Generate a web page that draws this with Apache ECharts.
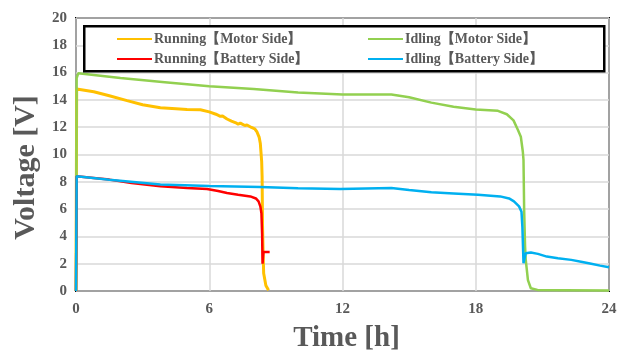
<!DOCTYPE html>
<html><head><meta charset="utf-8">
<script src="https://cdn.jsdelivr.net/npm/echarts@6/dist/echarts.min.js"></script>
<style>html,body{margin:0;padding:0;background:#fff}#c{width:626px;height:352px}</style>
</head><body><div id="c"></div>
<script>
const xTicks = [0, 6, 12, 18, 24];
const yTicks = [0, 2, 4, 6, 8, 10, 12, 14, 16, 18, 20];
const seriesNames = ['Running【Motor Side】', 'Idling【Motor Side】', 'Running【Battery Side】', 'Idling【Battery Side】'];

const runningMotor = [
  [0,0],[0.03,14.8],[0.1,14.9],[0.8,14.6],[1.5,14.3],[2.3,13.95],[3.0,13.65],[3.8,13.42],[4.5,13.35],[5.0,13.3],[5.6,13.28],[6.0,13.12],
  [6.3,12.95],[6.5,12.8],[6.55,12.7],[6.6,12.82],[6.8,12.6],[7.0,12.45],[7.2,12.32],[7.3,12.22],[7.4,12.3],[7.6,12.12],[7.7,12.16],[7.9,11.98],[8.05,11.88],
  [8.15,11.65],[8.25,11.25],[8.3,10.8],[8.36,9.5],[8.38,8.4],[8.4,4.7],[8.43,2.5],[8.45,1.3],[8.55,0.4],[8.67,0.05]
];
const idlingMotor = [
  [0,0],[0.03,15.6],[0.1,15.95],[2.0,15.6],[4.0,15.3],[6.0,15.0],[8.0,14.8],[10.0,14.55],[12.0,14.4],[14.2,14.4],[15.0,14.2],
  [16.0,13.8],[17.0,13.5],[18.0,13.3],[19.0,13.2],[19.4,12.95],[19.7,12.5],[19.9,11.8],[20.03,11.3],[20.12,10.2],[20.15,9.6],
  [20.18,5.9],[20.22,3.3],[20.25,2.3],[20.35,0.8],[20.48,0.2],[20.78,0.08],[22.0,0.06],[24.0,0.03]
];
const runningBattery = [
  [0,0],[0.03,8.4],[0.8,8.28],[1.5,8.16],[2.5,7.92],[3.8,7.67],[5.0,7.55],[5.9,7.47],[6.4,7.33],[6.8,7.18],[7.3,7.05],[7.85,6.93],
  [8.1,6.78],[8.22,6.57],[8.3,6.2],[8.35,5.7],[8.38,4.2],[8.4,2.0],[8.42,2.0],[8.44,2.85],[8.72,2.85]
];
const idlingBattery = [
  [0,0],[0.03,8.4],[1.5,8.15],[3.8,7.8],[6.0,7.7],[8.3,7.62],[10.0,7.52],[11.9,7.47],[14.2,7.55],[15.0,7.4],[16.0,7.23],
  [17.0,7.15],[18.1,7.06],[19.1,6.93],[19.5,6.78],[19.72,6.57],[19.95,6.2],[20.06,5.8],[20.1,4.7],[20.15,2.03],[20.2,2.1],
  [20.25,2.77],[20.48,2.82],[20.8,2.72],[21.2,2.52],[21.7,2.4],[22.3,2.28],[22.8,2.12],[23.2,1.99],[23.6,1.86],[24.0,1.74]
];

const colors = ['#FFC000', '#92D050', '#FF0000', '#00B0F0'];
const dataSets = [runningMotor, idlingMotor, runningBattery, idlingBattery];
const widths = [3, 2.5, 2.5, 2.5];
const gray = '#595959';
const serif = '"Liberation Serif", "Times New Roman", serif';

const chart = echarts.init(document.getElementById('c'), null, {renderer: 'canvas'});
chart.setOption({
  animation: false,
  backgroundColor: '#fff',
  grid: {left: 76, right: 17, top: 18, bottom: 61, show: true, borderColor: '#000', borderWidth: 2, backgroundColor: 'transparent', outerBoundsMode: 'none', containLabel: false},
  xAxis: {
    type: 'value', min: xTicks[0], max: xTicks[xTicks.length - 1], interval: 6,
    name: 'Time [h]', nameLocation: 'middle', nameGap: 33,
    nameTextStyle: {fontFamily: serif, fontWeight: 'bold', fontSize: 29, color: gray, padding: [0, 0, 0, 8]},
    axisLine: {show: false}, axisTick: {show: false},
    axisLabel: {fontFamily: serif, fontWeight: 'bold', fontSize: 15, color: gray, margin: 11},
    splitLine: {show: true, lineStyle: {color: '#D9D9D9', width: 1.5}}
  },
  yAxis: {
    type: 'value', min: yTicks[0], max: yTicks[yTicks.length - 1], interval: 2,
    name: 'Voltage [V]', nameLocation: 'middle', nameGap: 32, nameRotate: 90,
    nameTextStyle: {fontFamily: serif, fontWeight: 'bold', fontSize: 30, color: gray, padding: [0, 26, 0, 0]},
    axisLine: {show: false}, axisTick: {show: false},
    axisLabel: {fontFamily: serif, fontWeight: 'bold', fontSize: 15, color: gray, margin: 9},
    splitLine: {show: true, lineStyle: {color: '#D9D9D9', width: 1.5}}
  },
  graphic: [{
    type: 'rect', left: 83, top: 25, z: 5,
    shape: {width: 520, height: 45},
    style: {fill: '#fff', stroke: '#000', lineWidth: 2.5}
  }],
  legend: [{
    data: [seriesNames[0], seriesNames[2]], orient: 'vertical', left: 112, top: 27, itemGap: 6,
    itemWidth: 35, itemHeight: 12, z: 10, icon: 'path://M0,5 L35,5 L35,7 L0,7 Z',
    textStyle: {fontFamily: serif, fontWeight: 'bold', fontSize: 14, color: gray, padding: [0,0,0,-3]}
  }, {
    data: [seriesNames[1], seriesNames[3]], orient: 'vertical', left: 363, top: 27, itemGap: 6,
    itemWidth: 35, itemHeight: 12, z: 10, icon: 'path://M0,5 L35,5 L35,7 L0,7 Z',
    textStyle: {fontFamily: serif, fontWeight: 'bold', fontSize: 14, color: gray, padding: [0,0,0,-3]}
  }],
  series: dataSets.map((d, i) => ({
    name: seriesNames[i], type: 'line', data: d, showSymbol: false, symbol: 'none',
    lineStyle: {color: colors[i], width: widths[i]}, itemStyle: {color: colors[i]}, z: 2
  }))
});
</script></body></html>
